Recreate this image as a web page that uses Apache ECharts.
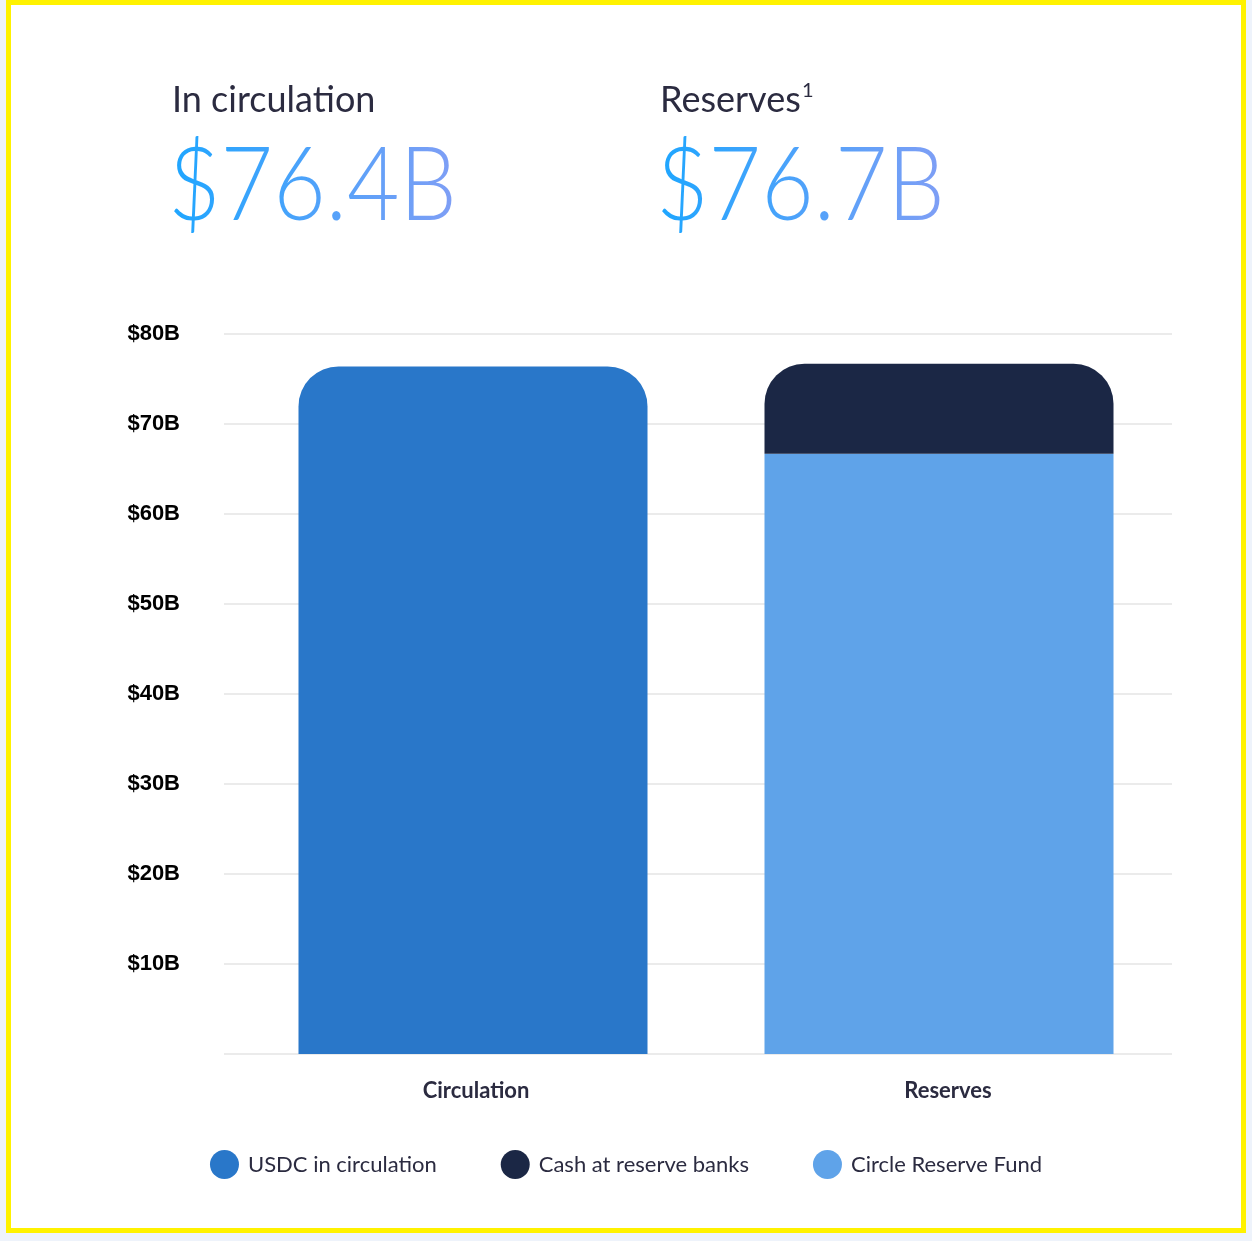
<!DOCTYPE html>
<html>
<head>
<meta charset="utf-8">
<script src="https://cdn.jsdelivr.net/npm/echarts@6/dist/echarts.min.js"></script>
<style>
  html, body { margin: 0; padding: 0; background: #eef3fb; }
  #frame {
    position: absolute; left: 6px; top: 0; width: 1240px; height: 1233px;
    box-sizing: border-box; border: 5px solid #fff200; background: #fff;
  }
  #chart { position: absolute; left: 0; top: 0; width: 1252px; height: 1241px; }
</style>
</head>
<body>
<div id="frame"></div>
<div id="chart"></div>
<script>
const categories = ['Circulation', 'Reserves'];
const usdcInCirculation = [76.4, '-'];
const circleReserveFund = ['-', 66.7];
const cashAtReserveBanks = ['-', 10.0];
const legendNames = ['USDC in circulation', 'Cash at reserve banks', 'Circle Reserve Fund'];
const headlineLabels = ['In circulation', 'Reserves'];
const headlineValues = ['$76.4B', '$76.7B'];

const textColor = '#2b2b40';
const gradient = {
    type: 'linear', x: 0, y: 0, x2: 1, y2: 0,
    colorStops: [{offset: 0, color: '#1ea6ff'}, {offset: 1, color: '#819ef5'}]
};

const chart = echarts.init(document.getElementById('chart'));

// big numbers: draw solid, then paint the gradient over them with source-atop
function bigNumber(x, text) {
    return [
        {type: 'text', x: x, y: 135, scaleX: 0.88, z: 10, style: {text: text, font: '300 103px Lato', fill: '#000'}},
        {type: 'rect', z: 11, shape: {x: x + 2, y: 125, width: 292, height: 125},
            style: {fill: gradient, blend: 'source-atop'}}
    ];
}

const option = {
    backgroundColor: 'transparent',
    animation: false,
    graphic: [
        {type: 'text', left: 172, top: 82, style: {text: headlineLabels[0], font: '36px Lato', fill: textColor}},
        {type: 'text', left: 660, top: 82, style: {text: headlineLabels[1], font: '36px Lato', fill: textColor}},
        {type: 'text', left: 802, top: 81, style: {text: '1', font: '20px Lato', fill: textColor}},
        ...bigNumber(168, headlineValues[0]),
        ...bigNumber(656, headlineValues[1])
    ],
    legend: {
        data: legendNames,
        top: 1145,
        left: 'center',
        icon: 'circle',
        itemWidth: 29,
        itemHeight: 30,
        itemGap: 64,
        textStyle: {fontFamily: 'Lato', fontSize: 22, color: textColor, padding: [0, 0, 0, 4]}
    },
    grid: [
        {left: 224, right: 80, top: 334, bottom: 187},
        {left: 240, right: 80, top: 334, bottom: 187}
    ],
    xAxis: [
        {type: 'category', gridIndex: 0, data: categories, show: false},
        {
            type: 'category', gridIndex: 1, data: categories,
            axisLine: {show: false}, axisTick: {show: false},
            axisLabel: {
                margin: 26, fontFamily: 'Lato', fontWeight: 'bold', fontSize: 22, color: textColor,
                formatter: (v, i) => '{c' + i + '|' + v + '}',
                rich: {
                    c0: {fontFamily: 'Lato', fontWeight: 'bold', fontSize: 22, color: textColor, padding: [0, 0, 0, 6]},
                    c1: {fontFamily: 'Lato', fontWeight: 'bold', fontSize: 22, color: textColor, padding: [0, 0, 0, 18]}
                }
            }
        }
    ],
    yAxis: [
        {
            type: 'value', gridIndex: 0, min: 0, max: 80, interval: 10,
            axisLine: {show: false}, axisTick: {show: false},
            splitLine: {lineStyle: {color: '#e4e4e4', width: 1.5}},
            axisLabel: {
                margin: 44, fontFamily: 'Liberation Sans', fontWeight: 'bold', fontSize: 22, color: '#000',
                formatter: v => v === 0 ? '' : '$' + v + 'B'
            }
        },
        {type: 'value', gridIndex: 1, min: 0, max: 80, interval: 10, show: false, splitLine: {show: false}}
    ],
    series: [
        {
            name: legendNames[0], type: 'bar', stack: 'total', xAxisIndex: 1, yAxisIndex: 1,
            barWidth: 349, data: usdcInCirculation,
            itemStyle: {color: '#2977c9', borderRadius: [40, 40, 0, 0]}
        },
        {
            name: legendNames[2], type: 'bar', stack: 'total', xAxisIndex: 1, yAxisIndex: 1,
            barWidth: 349, data: circleReserveFund,
            itemStyle: {color: '#5fa3e9'}
        },
        {
            name: legendNames[1], type: 'bar', stack: 'total', xAxisIndex: 1, yAxisIndex: 1,
            barWidth: 349, data: cashAtReserveBanks,
            itemStyle: {color: '#1b2745', borderRadius: [40, 40, 0, 0]}
        }
    ]
};
chart.setOption(option);
</script>
</body>
</html>
